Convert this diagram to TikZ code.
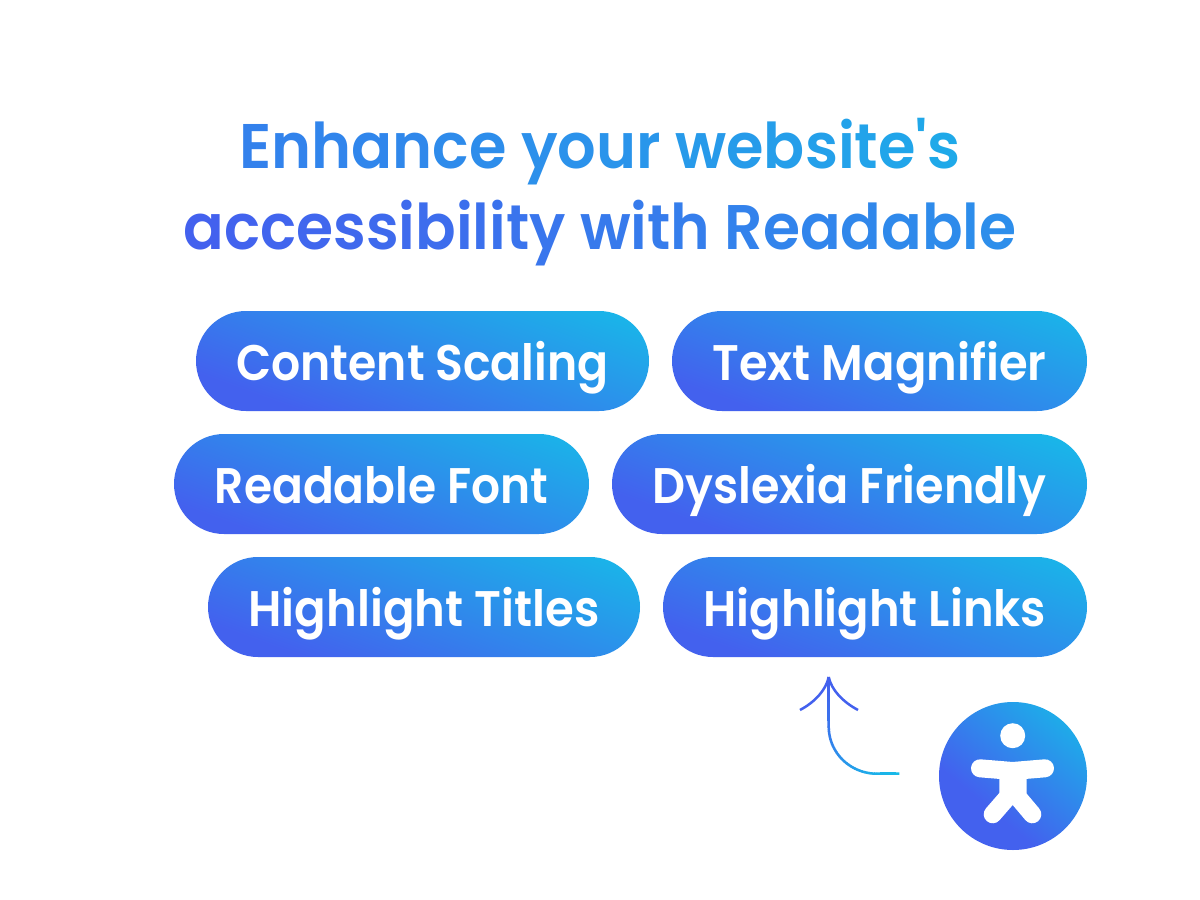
\documentclass[tikz,border=0pt]{standalone}
\usepackage{fontspec}
\newfontfamily\titlefont{Poppins}[UprightFont=* SemiBold,FakeStretch=0.952]
\newfontfamily\titlefontA{Poppins}[UprightFont=* SemiBold,FakeStretch=0.962]
\newfontfamily\pillfont{Poppins}[UprightFont=* SemiBold,FakeStretch=0.91]
\usetikzlibrary{shapes.misc,calc}
\definecolor{gA}{HTML}{4361EE}
\definecolor{gB}{HTML}{16BCE8}
\pgfdeclareverticalshading{gradpill}{700bp}{color(0bp)=(gA); color(262bp)=(gA); color(478bp)=(gB); color(700bp)=(gB)}
\pgfdeclareverticalshading{gradicon}{400bp}{color(0bp)=(gA); color(160bp)=(gA); color(300bp)=(gB); color(400bp)=(gB)}
\newcount\gradpos
\newcount\gradstep
\def\gradnext#1{\ifx#1\relax\else
  \begingroup\color{gB!\the\numexpr\gradpos/100\relax!gA}#1\endgroup
  \advance\gradpos by \gradstep
  \expandafter\gradnext\fi}
\newcommand{\gradtext}[3]{\gradpos=#1\relax\gradstep=#2\relax\gradnext#3\relax}
\tikzset{
  pill/.style={rounded rectangle,inner sep=0pt,minimum height=100pt,text=white,
    text height=38pt,text depth=0pt,font=\pillfont\fontsize{50}{60}\selectfont,
    path picture={\node[rectangle,text height=,text depth=,rotate=-20,inner sep=0pt] at (path picture bounding box.center) {\pgfuseshading{gradpill}};}},
  titletext/.style={anchor=base,inner sep=0pt,font=\titlefont\fontsize{63}{70}\selectfont},
  bodyline/.style={white,line width=18pt,line cap=round,line join=round},
  arrowline/.style={line width=2.5pt}
}
\begin{document}
\begin{tikzpicture}[x=1pt,y=-1pt]
\useasboundingbox (0,0) rectangle (1200,900);
\fill[white] (0,0) rectangle (1200,900);
% title
\node[titletext,font=\titlefontA\fontsize{63}{70}\selectfont] (title1) at (600,168) {\gradtext{3500}{210}{Enhance~your~website's}};
\node[titletext] (title2) at (600,249) {\gradtext{0}{190}{accessibility~with~Readable}};
% pills
\node[pill,minimum width=453pt] (content) at (422.5,361) {\scalebox{1.005}[1]{Content Scaling}};
\node[pill,minimum width=415pt] (magnifier) at (879.5,361) {\scalebox{1.02}[1]{Text Magnifier}};
\node[pill,minimum width=415pt] (font) at (381.5,484) {Readable Font};
\node[pill,minimum width=475pt] (dyslexia) at (849.5,484) {\scalebox{1.013}[1]{Dyslexia Friendly}};
\node[pill,minimum width=432pt] (titles) at (424,607) {\scalebox{1.023}[1]{Highlight Titles}};
\node[pill,minimum width=424pt] (links) at (875,607) {\scalebox{1.02}[1]{Highlight Links}};
% icon
\node[circle,inner sep=0pt,minimum size=148pt,
  path picture={\node[rectangle,rotate=-40,inner sep=0pt] at (path picture bounding box.center) {\pgfuseshading{gradicon}};}] (icon) at (1013,776) {};
\fill[white] (1012.7,735.7) circle (12.5pt);
\draw[bodyline] (980,768.3) -- (1012.7,771) -- (1045,768.3);
\fill[white] (999.3,771) -- (1026.7,771) -- (1026.7,793.3) -- (1012.7,805) -- (999.3,793.3) -- cycle;
\draw[bodyline] (992.7,814.3) -- (1006,799);
\draw[bodyline] (1032.3,814.3) -- (1019.4,799);
% arrow
\coordinate (arrowtip) at (828.7,677);
\coordinate (stembase) at (828.7,726.7);
\coordinate (tailstart) at (876.7,773.7);
\coordinate (arrowend) at (899,773.7);
\coordinate (headleft) at (800,710);
\coordinate (headright) at (858,710);
\foreach \i in {0,...,7}{
  \pgfmathtruncatemacro{\p}{\i*3}
  \draw[arrowline,draw=gB!\p!gA] ($(arrowtip)!{\i/8}!(stembase)$) -- ($(arrowtip)!{(\i+1.1)/8}!(stembase)$);
}
\foreach \i in {0,...,29}{
  \pgfmathsetmacro{\a}{180-\i*3}
  \pgfmathsetmacro{\b}{180-(\i+1.2)*3}
  \pgfmathtruncatemacro{\p}{24+\i*2.2}
  \draw[arrowline,draw=gB!\p!gA] ($(stembase)+({48*(1+cos(\a))},{47*sin(\a)})$) -- ($(stembase)+({48*(1+cos(\b))},{47*sin(\b)})$);
}
\foreach \i in {0,...,5}{
  \pgfmathtruncatemacro{\p}{88+\i*2}
  \draw[arrowline,draw=gB!\p!gA] ($(tailstart)!{\i/6}!(arrowend)$) -- ($(tailstart)!{(\i+1.1)/6}!(arrowend)$);
}
\draw[arrowline,draw=gA] (arrowtip) .. controls (826,690) and (815,702) .. (headleft);
\draw[arrowline,draw=gA] (arrowtip) .. controls (831.4,690) and (843,702) .. (headright);
\end{tikzpicture}
\end{document}
